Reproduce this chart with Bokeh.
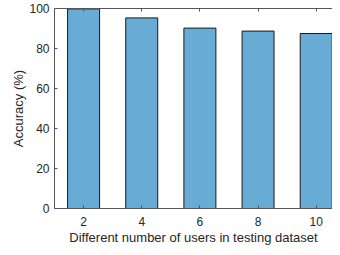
from bokeh.plotting import figure
from bokeh.models import LinearAxis, FixedTicker, Range1d
from bokeh.embed import file_html
from bokeh.resources import INLINE

users = [2, 4, 6, 8, 10]
accuracy = [99.8, 95.3, 90.2, 88.7, 87.5]
y_ticks = [0, 20, 40, 60, 80, 100]

p = figure(width=332, height=247, output_backend="svg", toolbar_location=None,
           x_range=Range1d(1, 10.56), y_range=Range1d(0, 100),
           min_border_left=54, min_border_right=0, min_border_top=8, min_border_bottom=30)
p.outline_line_color = None
p.grid.visible = False

p.vbar(x=users, top=accuracy, width=1.1, fill_color="#68acd6", line_color="#1a1a1a", line_width=1)

font = "Liberation Sans"
axc = "#555555"
txt = "#262626"

for ax in (p.xaxis[0], p.yaxis[0]):
    ax.axis_line_color = axc
    ax.major_tick_line_color = axc
    ax.major_tick_in = 3
    ax.major_tick_out = 0
    ax.minor_tick_line_color = None
    ax.major_label_text_font = font
    ax.major_label_text_font_size = "12px"
    ax.major_label_text_color = txt
    ax.axis_label_text_font = font
    ax.axis_label_text_font_size = "13px"
    ax.axis_label_text_font_style = "normal"
    ax.axis_label_text_color = txt

p.xaxis[0].ticker = FixedTicker(ticks=users)
p.yaxis[0].ticker = FixedTicker(ticks=y_ticks)
p.xaxis[0].axis_label = "Different number of users in testing dataset"
p.yaxis[0].axis_label = "Accuracy (%)"
p.xaxis[0].major_label_standoff = 8
p.yaxis[0].major_label_standoff = 5
p.xaxis[0].axis_label_standoff = 1
p.yaxis[0].axis_label_standoff = 0

top = LinearAxis(ticker=FixedTicker(ticks=users))
top.axis_line_color = axc
top.major_tick_line_color = axc
top.major_tick_in = 3
top.major_tick_out = 0
top.minor_tick_line_color = None
top.major_label_overrides = {t: "" for t in users}
top.major_label_standoff = 0
p.add_layout(top, "above")

open("out.html", "w").write(file_html(p, INLINE))
